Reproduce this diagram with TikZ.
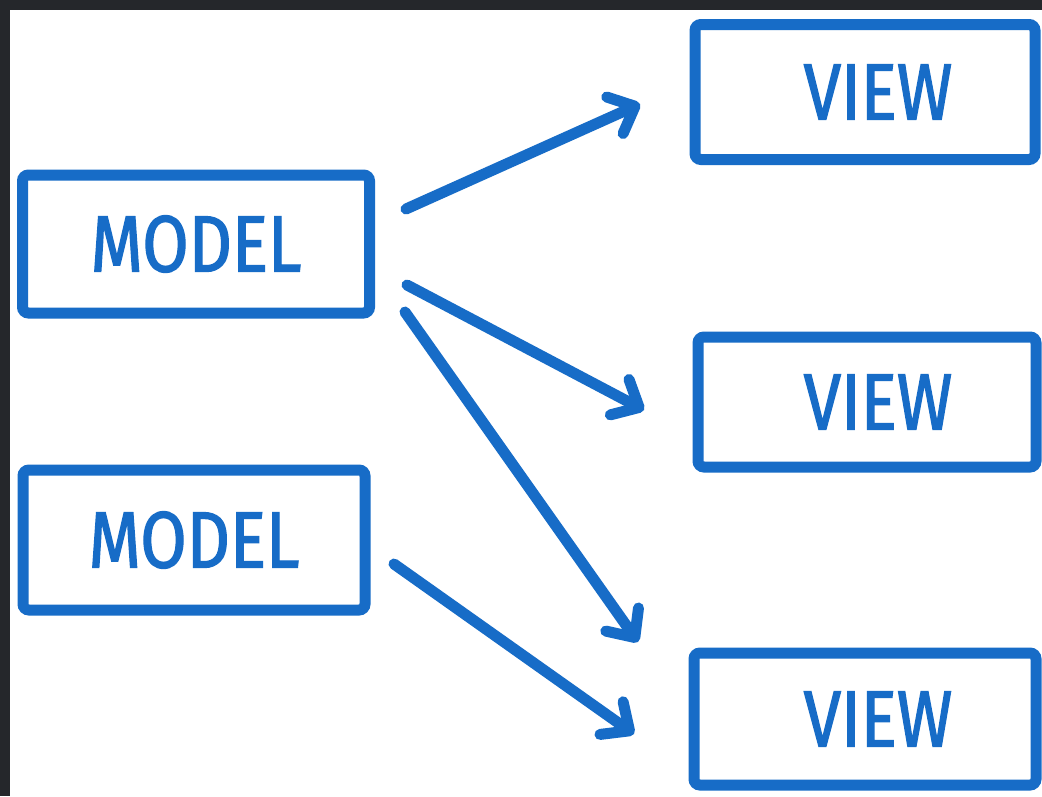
\documentclass[tikz,border=0pt]{standalone}
\usepackage{fontspec}
\setmainfont{Fira Sans}[FakeStretch=0.84, FakeBold=1.6]
\usetikzlibrary{arrows.meta}
\definecolor{penblue}{RGB}{23,108,199}
\definecolor{framedark}{RGB}{37,39,43}

\begin{document}
\begin{tikzpicture}[x=1pt, y=-1pt,
        box/.style={draw=penblue, line width=11pt, rounded corners=6pt, text=penblue,
            font=\fontsize{80}{80}\selectfont, inner sep=0pt},
        arr/.style={draw=penblue, line width=11pt, line cap=round,
            -{Straight Barb[length=22pt, width=40pt, round]}}]
        \useasboundingbox (0,0) rectangle (1042,796);
        \fill[framedark] (0,0) rectangle (1042,796);
        \fill[white] (10,10) rectangle (1042,796);

        \node[box, minimum width=347pt, minimum height=138pt] (model1) at (196,244) {MODEL};
        \node[box, minimum width=342pt, minimum height=140pt] (model2) at (194,540) {MODEL};
        \node[box, minimum width=340pt, minimum height=135pt] (view1) at (865,92) {\hspace{26pt}VIEW};
        \node[box, minimum width=338pt, minimum height=130pt] (view2) at (867,402) {\hspace{22pt}VIEW};
        \node[box, minimum width=342pt, minimum height=132pt] (view3) at (865,719) {\hspace{26pt}VIEW};

        \coordinate (m1a) at (406,209);
        \coordinate (m1b) at (407,285);
        \coordinate (m1c) at (405,312);
        \coordinate (m2a) at (394,564);
        \coordinate (v1in) at (640,104);
        \coordinate (v2in) at (644,410);
        \coordinate (v3in) at (638,642);
        \coordinate (v3low) at (634,734);

        \draw[arr] (m1a) -- (v1in);
        \draw[arr] (m1b) -- (v2in);
        \draw[arr] (m1c) -- (v3in);
        \draw[arr] (m2a) -- (v3low);
    \end{tikzpicture}
\end{document}
